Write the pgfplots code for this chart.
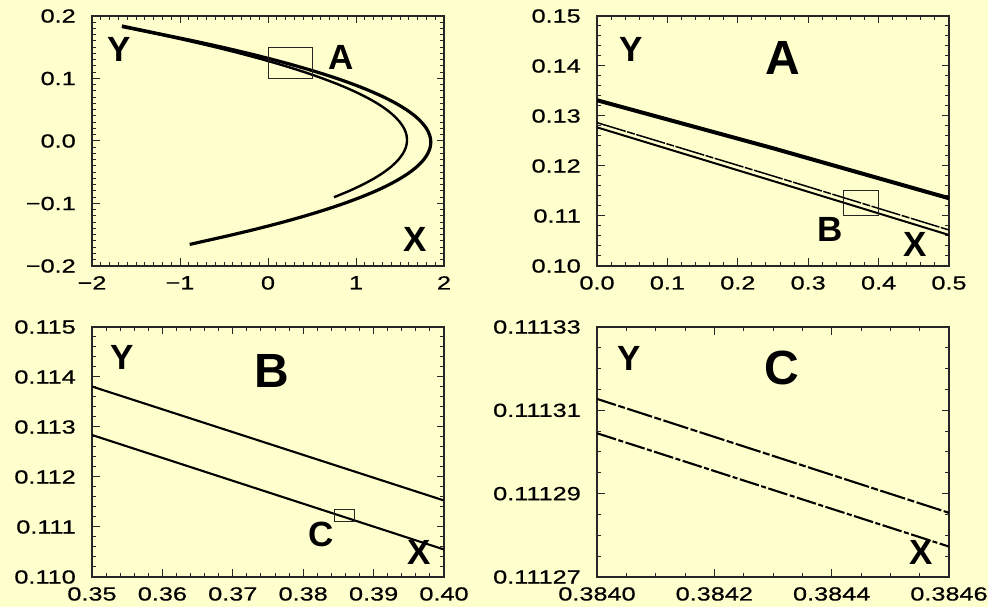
\documentclass[border=0pt]{standalone}
\usepackage{pgfplots}
\pgfplotsset{compat=1.18}
\usepackage{fontspec}
\setmainfont{Liberation Sans}
\newfontfamily\tickfont[FakeBold=0.6]{Liberation Sans}
\usepackage{graphicx}

\definecolor{paper}{HTML}{FFFFCE}
% wide tick-label face
\newcommand{\tl}[1]{\scalebox{1.33}[1]{#1}}
\newcommand{\smallmark}{\bfseries\fontsize{35}{35}\selectfont}
\newcommand{\bigmark}{\bfseries\fontsize{48}{48}\selectfont}

\pgfplotsset{
  panel/.style={
    scale only axis, width=352pt, height=250pt,
    anchor=south west,
    axis background/.style={fill=paper},
    axis line style={line width=1.3pt, black!85},
    tick style={line width=1pt, black!85},
    major tick length=7.5pt, minor tick length=3.7pt,
    tick align=inside,
    xtick pos=both, ytick pos=both,
    tick label style={font=\tickfont\fontsize{19}{19}\selectfont},
    xticklabel style={yshift=-6.7pt},
    yticklabel style={xshift=-12.7pt},
  },
}

\begin{document}
\begin{tikzpicture}[x=1pt,y=1pt]
\fill[paper] (0,0) rectangle (988,607);
\path[use as bounding box] (0,0) rectangle (988,607);

% ---------------- full attractor ----------------
\begin{axis}[panel, at={(92pt,341pt)},
  xmin=-2, xmax=2, ymin=-0.2, ymax=0.2,
  xtick={-2,-1,0,1,2}, ytick={-0.2,-0.1,0,0.1,0.2},
  minor x tick num=9, minor y tick num=9,
  xticklabels={\tl{−2},\tl{−1},\tl{0},\tl{1},\tl{2}},
  yticklabels={\tl{−0.2},\tl{−0.1},\tl{0.0},\tl{0.1},\tl{0.2}}]
\addplot[black, line width=3.2pt, smooth] coordinates {
  (-1.66,0.184) (-1.185,0.170) (-0.842,0.160) (-0.520,0.150) (-0.218,0.140)
  (0.063,0.130) (0.324,0.120) (0.564,0.110) (0.784,0.100) (0.983,0.090)
  (1.161,0.080) (1.319,0.070) (1.456,0.060) (1.573,0.050) (1.670,0.040)
  (1.745,0.030) (1.801,0.020) (1.835,0.010) (1.850,0.000) (1.843,-0.010)
  (1.816,-0.020) (1.769,-0.030) (1.701,-0.040) (1.612,-0.050) (1.503,-0.060)
  (1.374,-0.070) (1.224,-0.080) (1.053,-0.090) (0.862,-0.100) (0.650,-0.110)
  (0.418,-0.120) (0.165,-0.130) (-0.109,-0.140) (-0.403,-0.150) (-0.717,-0.160)
  (-0.890,-0.1655)};
\addplot[black, line width=2.4pt, smooth] coordinates {
  (-1.66,0.1825) (-1.225,0.170) (-0.901,0.160) (-0.598,0.150) (-0.314,0.140)
  (-0.051,0.130) (0.194,0.120) (0.418,0.110) (0.622,0.100) (0.807,0.090)
  (0.972,0.080) (1.117,0.070) (1.243,0.060) (1.348,0.050) (1.434,0.040)
  (1.500,0.030) (1.547,0.020) (1.573,0.010) (1.580,0.000) (1.567,-0.010)
  (1.534,-0.020) (1.481,-0.030) (1.409,-0.040) (1.317,-0.050) (1.205,-0.060)
  (1.073,-0.070) (0.921,-0.080) (0.750,-0.090)};
\draw[black!85, line width=1pt] (axis cs:0,0.10) rectangle (axis cs:0.5,0.15);
\end{axis}

% ---------------- zoom A ----------------
\begin{axis}[panel, at={(597pt,341pt)},
  xmin=0, xmax=0.5, ymin=0.10, ymax=0.15,
  xtick={0,0.1,0.2,0.3,0.4,0.5}, ytick={0.10,0.11,0.12,0.13,0.14,0.15},
  minor x tick num=4, minor y tick num=4,
  xticklabels={\tl{0.0},\tl{0.1},\tl{0.2},\tl{0.3},\tl{0.4},\tl{0.5}},
  yticklabels={\tl{0.10},\tl{0.11},\tl{0.12},\tl{0.13},\tl{0.14},\tl{0.15}}]
% thick band of many close strands
\addplot[black, line width=4pt] coordinates {(0,0.13315) (0.25,0.12355) (0.5,0.11355)};
% the two separated strands
\addplot[black, line width=1.5pt, dash pattern=on 30pt off 1.5pt on 8pt off 1.5pt]
  coordinates {(0,0.12867) (0.25,0.11800) (0.5,0.10720)};
\addplot[black, line width=2pt] coordinates {(0,0.12773) (0.25,0.11700) (0.5,0.10620)};
\draw[black!85, line width=1pt] (axis cs:0.35,0.110) rectangle (axis cs:0.40,0.115);
\end{axis}

% ---------------- zoom B ----------------
\begin{axis}[panel, at={(92pt,30pt)},
  xmin=0.35, xmax=0.40, ymin=0.110, ymax=0.115,
  xtick={0.35,0.36,0.37,0.38,0.39,0.40},
  ytick={0.110,0.111,0.112,0.113,0.114,0.115},
  minor x tick num=4, minor y tick num=4,
  xticklabels={\tl{0.35},\tl{0.36},\tl{0.37},\tl{0.38},\tl{0.39},\tl{0.40}},
  yticklabels={\tl{0.110},\tl{0.111},\tl{0.112},\tl{0.113},\tl{0.114},\tl{0.115}}]
\addplot[black, line width=2.1pt] coordinates {(0.35,0.11381) (0.40,0.11153)};
\addplot[black, line width=2.1pt] coordinates {(0.35,0.11284) (0.40,0.11055)};
\draw[black!85, line width=1pt] (axis cs:0.38442,0.111106) rectangle (axis cs:0.38722,0.111354);
\end{axis}

% ---------------- zoom C ----------------
% x in units of 1e-4 above 0.3840, y in units of 1e-6 above 0.11127
\begin{axis}[panel, at={(597pt,30pt)},
  xmin=0, xmax=6, ymin=0, ymax=60,
  xtick={0,2,4,6}, ytick={0,20,40,60},
  minor x tick num=3, minor y tick num=3,
  xticklabels={\tl{0.3840},\tl{0.3842},\tl{0.3844},\tl{0.3846}},
  yticklabels={\tl{0.11127},\tl{0.11129},\tl{0.11131},\tl{0.11133}}]
\addplot[black, line width=2.1pt, dash pattern=on 26pt off 2.5pt on 7pt off 2.5pt]
  coordinates {(-0.1,43.2) (6,15.4)};
\addplot[black, line width=2.1pt, dash pattern=on 20pt off 2.5pt on 5pt off 2.5pt]
  coordinates {(0,34.5) (6,7.3)};
\end{axis}

% panel lettering
\node[font=\smallmark] at (119,558) {Y};
\node[font=\smallmark] at (341,550) {A};
\node[font=\smallmark] at (415,368) {X};

\node[font=\smallmark] at (631,558) {Y};
\node[font=\bigmark]   at (783,549) {A};
\node[font=\smallmark] at (830,378) {B};
\node[font=\smallmark] at (915,363) {X};

\node[font=\smallmark] at (122,250) {Y};
\node[font=\bigmark]   at (272,236) {B};
\node[font=\smallmark] at (321,73) {C};
\node[font=\smallmark] at (419,55) {X};

\node[font=\smallmark] at (629,249) {Y};
\node[font=\bigmark]   at (782,239) {C};
\node[font=\smallmark] at (921,55) {X};
\end{tikzpicture}
\end{document}
